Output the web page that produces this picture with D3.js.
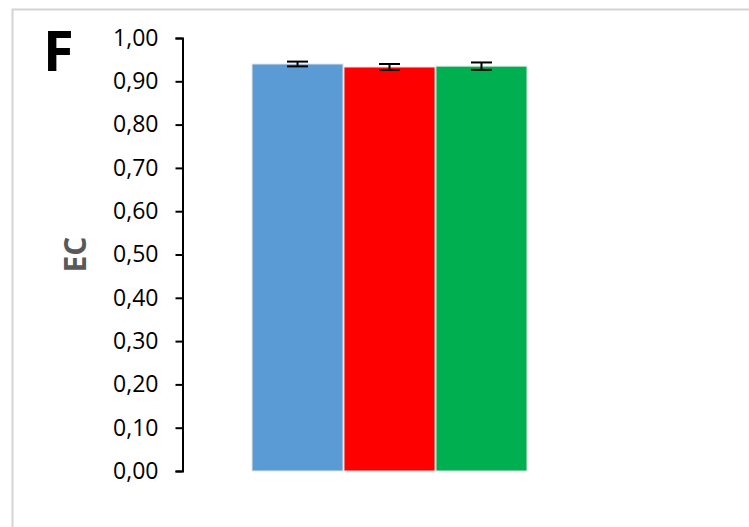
<!DOCTYPE html>
<html>
<head>
<meta charset="utf-8">
<script src="https://cdn.jsdelivr.net/npm/d3@7"></script>
<style>
  html, body { margin: 0; padding: 0; background: #fff; }
  svg { display: block; }
</style>
</head>
<body>
<svg id="chart" width="749" height="527"></svg>
<script>
// Series shown as adjacent bars, each with its mean and error
const series = ["A", "B", "C"];
const means = [0.940, 0.933, 0.935];
const errors = [0.0055, 0.007, 0.0085];
const colors = ["#5b9bd5", "#ff0000", "#00b050"];
const tickValues = [0, 0.1, 0.2, 0.3, 0.4, 0.5, 0.6, 0.7, 0.8, 0.9, 1.0];
const yTitle = "EC";
const panelLabel = "F";

const svg = d3.select("#chart");

// outer chart frame (right and bottom edges run past the window)
svg.append("rect")
  .attr("x", 12.5).attr("y", 9.5)
  .attr("width", 800).attr("height", 600)
  .attr("fill", "none")
  .attr("stroke", "#d4d4d4")
  .attr("stroke-width", 2);

const y = d3.scaleLinear().domain([0, 1]).range([471, 38]);
const x = d3.scaleBand().domain(series).range([252, 527]).paddingInner(0.01).paddingOuter(0);

// y axis
const yAxis = d3.axisLeft(y)
  .tickValues(tickValues)
  .tickSize(7)
  .tickPadding(17)
  .tickFormat(d => d3.format(".2f")(d).replace(".", ","));

const gy = svg.append("g")
  .attr("transform", "translate(182.5,0)")
  .call(yAxis);
gy.select(".domain").attr("stroke", "#000").attr("stroke-width", 2);
gy.selectAll(".tick line").attr("stroke", "#000").attr("stroke-width", 2);
gy.selectAll(".tick text")
  .attr("fill", "#000")
  .style("font-family", "'Open Sans', sans-serif")
  .style("font-size", "23px");

// bars
svg.append("g").selectAll("rect")
  .data(series)
  .join("rect")
  .attr("x", d => x(d))
  .attr("width", x.bandwidth())
  .attr("y", (d, i) => y(means[i]))
  .attr("height", (d, i) => y(0) - y(means[i]))
  .attr("fill", (d, i) => colors[i])
  .attr("stroke", "#e6e6e6")
  .attr("stroke-width", 1);

// error bars
const capHalf = 10.5;
const eg = svg.append("g").attr("stroke", "#000").attr("stroke-width", 2);
series.forEach((s, i) => {
  const cx = x(s) + x.bandwidth() / 2;
  const top = y(means[i] + errors[i]);
  const bot = y(means[i] - errors[i]);
  eg.append("line").attr("x1", cx).attr("x2", cx).attr("y1", top).attr("y2", bot);
  eg.append("line").attr("x1", cx - capHalf).attr("x2", cx + capHalf).attr("y1", top).attr("y2", top);
  eg.append("line").attr("x1", cx - capHalf).attr("x2", cx + capHalf).attr("y1", bot).attr("y2", bot);
});

// y axis title
svg.append("text")
  .attr("transform", `translate(86,${(y(0) + y(1)) / 2}) rotate(-90)`)
  .attr("text-anchor", "middle")
  .attr("fill", "#595959")
  .style("font-family", "'Open Sans', sans-serif")
  .style("font-weight", "bold")
  .style("font-size", "30px")
  .text(yTitle);

// panel letter
svg.append("text")
  .attr("x", 43).attr("y", 71)
  .attr("fill", "#000")
  .style("font-family", "'Open Sans', sans-serif")
  .style("font-weight", "bold")
  .style("font-size", "56px")
  .text(panelLabel);
</script>
</body>
</html>
